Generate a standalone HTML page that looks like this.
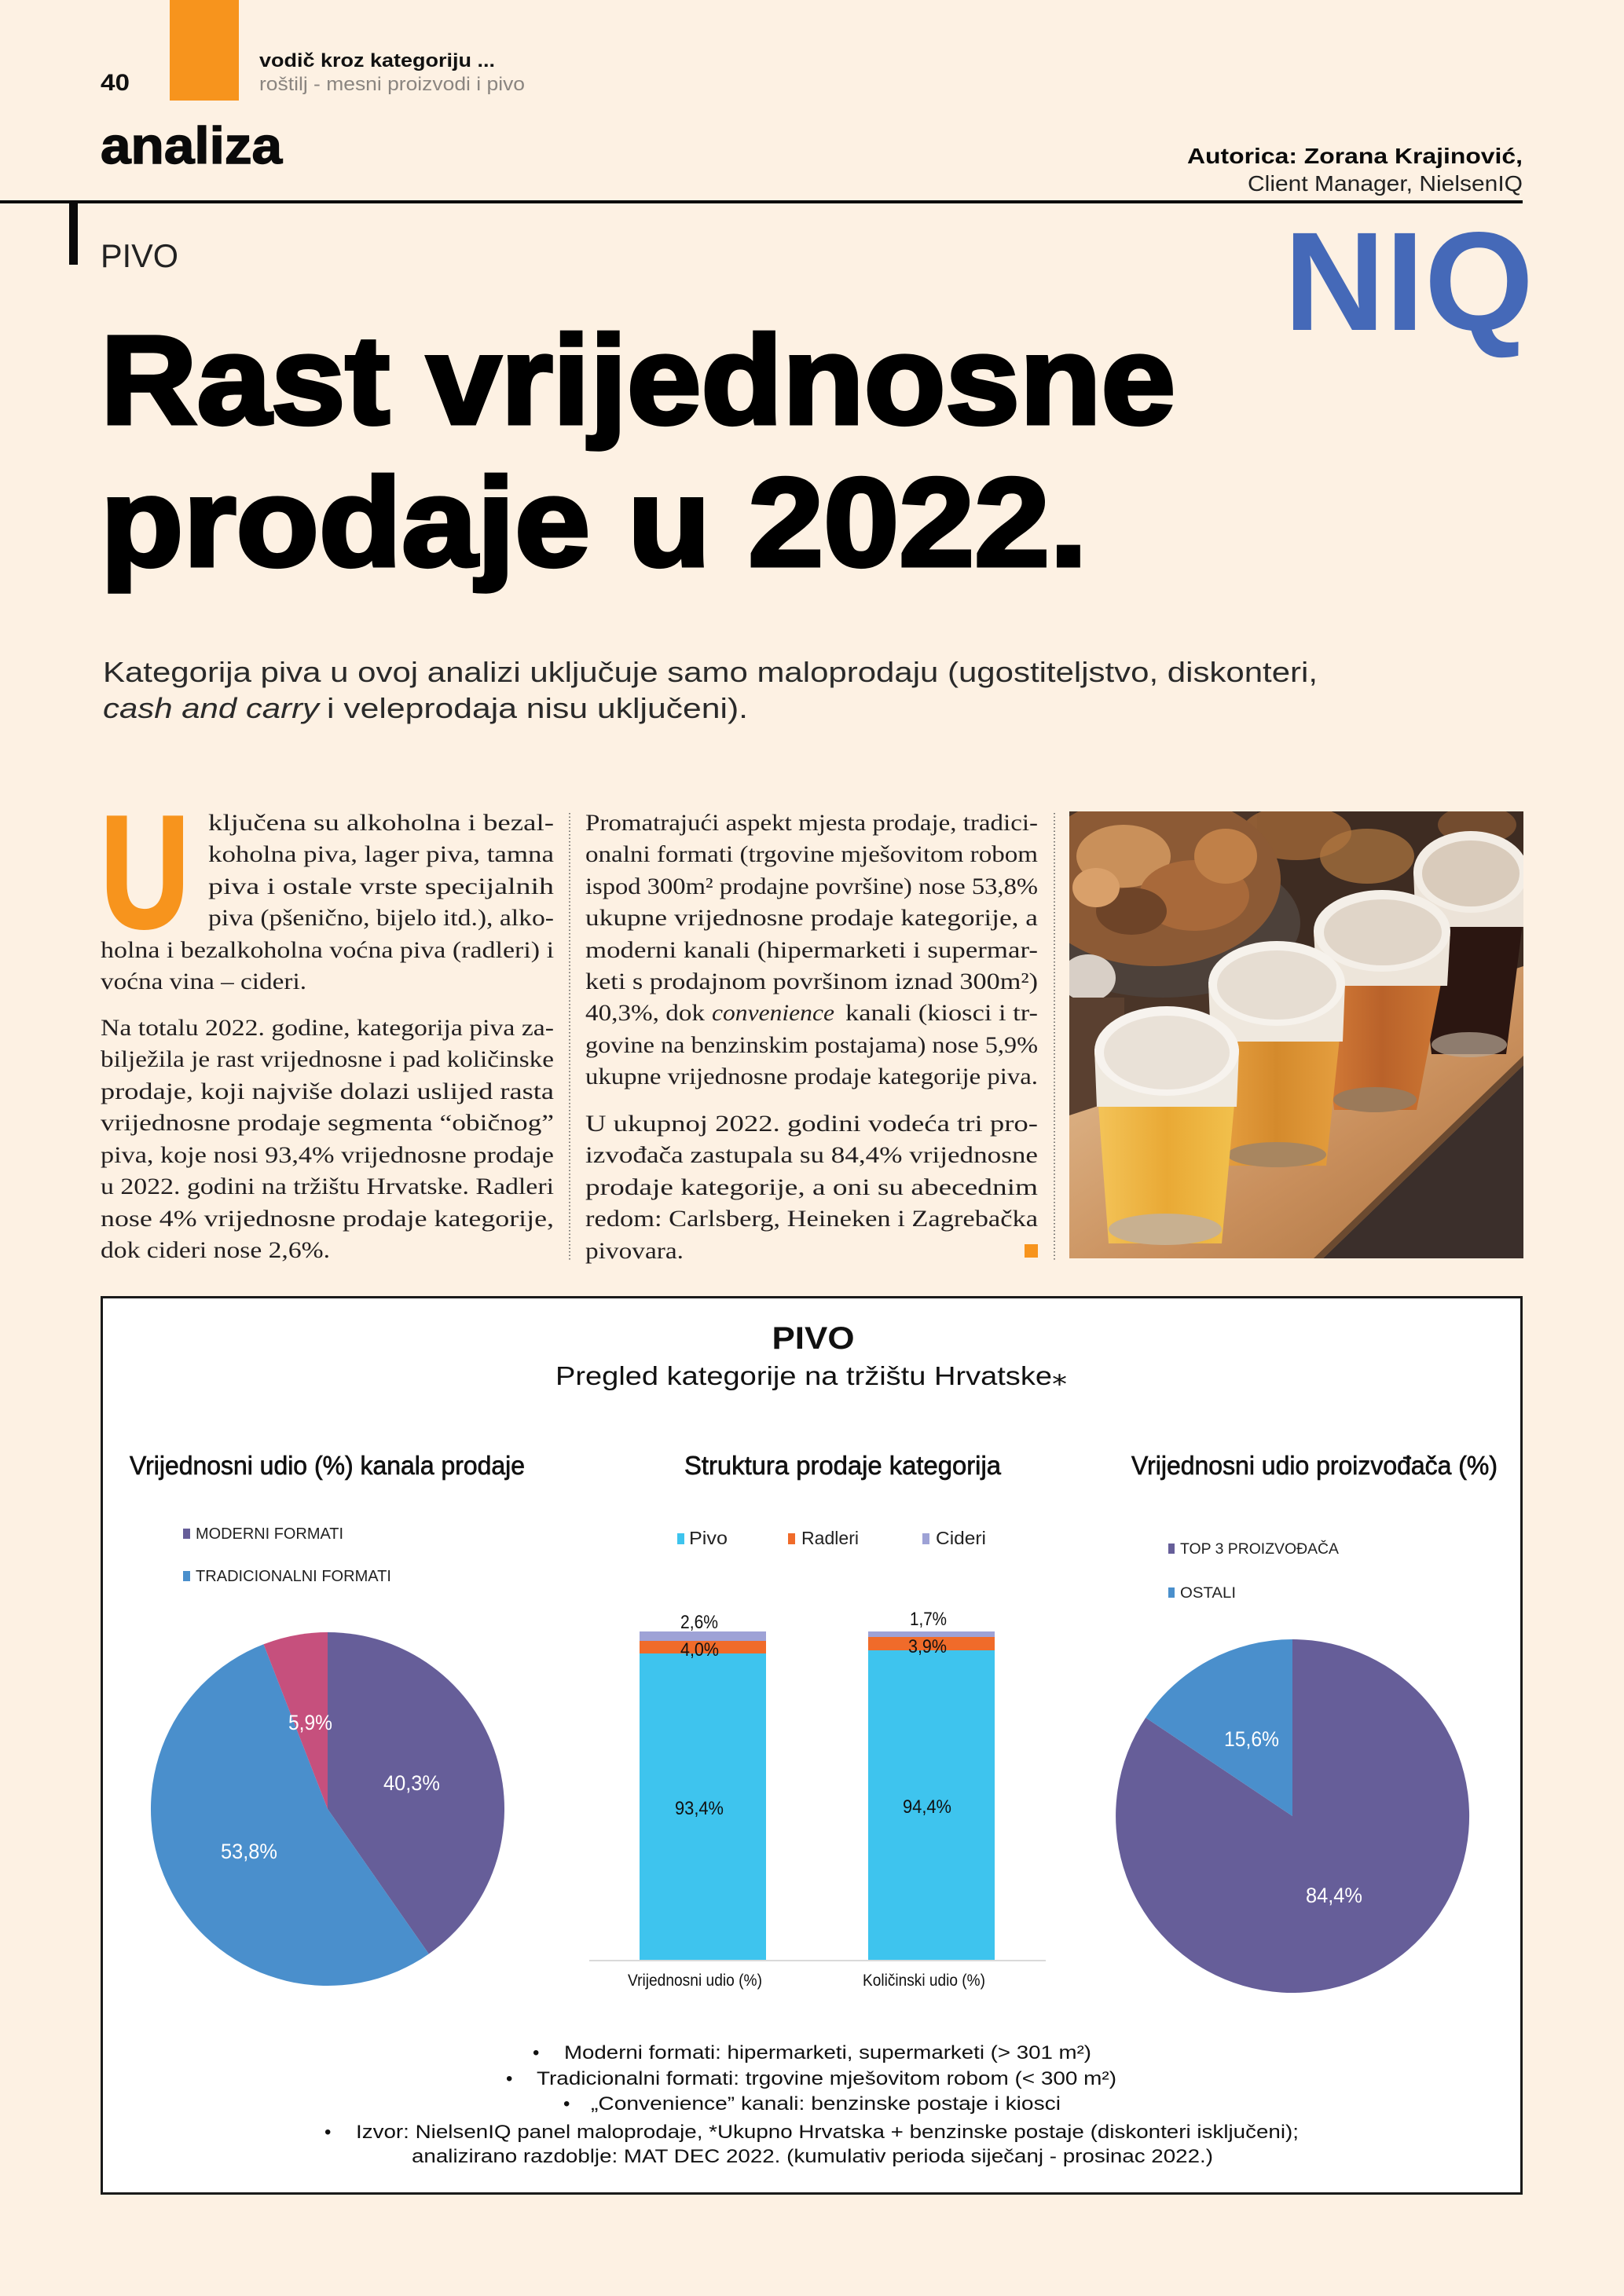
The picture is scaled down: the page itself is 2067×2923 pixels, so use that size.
<!DOCTYPE html>
<html>
<head>
<meta charset="utf-8">
<style>
html,body{margin:0;padding:0;background:#fdf1e3;}
svg{display:block;}
</style>
</head>
<body>
<svg width="2067" height="2923" viewBox="0 0 2067 2923" xmlns="http://www.w3.org/2000/svg">
<defs>
<clipPath id="ph"><rect x="1361" y="1033" width="578" height="569"/></clipPath>
<linearGradient id="wood" x1="0" y1="0" x2="1" y2="1">
<stop offset="0" stop-color="#e6c49a"/><stop offset="0.6" stop-color="#c98f5c"/><stop offset="1" stop-color="#a8703f"/>
</linearGradient>
<linearGradient id="b1" x1="0" y1="0" x2="1" y2="0">
<stop offset="0" stop-color="#f4c55a"/><stop offset="0.5" stop-color="#e9a935"/><stop offset="1" stop-color="#f2c24e"/>
</linearGradient>
<linearGradient id="b2" x1="0" y1="0" x2="1" y2="0">
<stop offset="0" stop-color="#eaa445"/><stop offset="0.5" stop-color="#d48a2c"/><stop offset="1" stop-color="#e6a040"/>
</linearGradient>
<linearGradient id="b3" x1="0" y1="0" x2="1" y2="0">
<stop offset="0" stop-color="#d9803a"/><stop offset="0.5" stop-color="#b9622a"/><stop offset="1" stop-color="#d07a35"/>
</linearGradient>
</defs>
<rect x="0" y="0" width="2067" height="2923" fill="#fdf1e3"/>

<!-- HEADER -->
<rect x="216" y="0" width="88" height="128" fill="#f7941d"/>
<text x="128" y="115" font-family="Liberation Sans, sans-serif" font-weight="bold" font-size="30" fill="#111" textLength="37" lengthAdjust="spacingAndGlyphs">40</text>
<text x="330" y="85" font-family="Liberation Sans, sans-serif" font-weight="bold" font-size="24" fill="#111" textLength="300" lengthAdjust="spacingAndGlyphs">vodič kroz kategoriju ...</text>
<text x="330" y="115" font-family="Liberation Sans, sans-serif" font-size="24" fill="#8a8580" textLength="338" lengthAdjust="spacingAndGlyphs">roštilj - mesni proizvodi i pivo</text>
<text x="128" y="208" font-family="Liberation Sans, sans-serif" font-weight="bold" font-size="66" fill="#0a0a0a" stroke="#0a0a0a" stroke-width="1.5" textLength="231" lengthAdjust="spacingAndGlyphs">analiza</text>
<text x="1511" y="208" font-family="Liberation Sans, sans-serif" font-weight="bold" font-size="28" fill="#0a0a0a" textLength="427" lengthAdjust="spacingAndGlyphs">Autorica: Zorana Krajinović,</text>
<text x="1588" y="243" font-family="Liberation Sans, sans-serif" font-size="28" fill="#222" textLength="350" lengthAdjust="spacingAndGlyphs">Client Manager, NielsenIQ</text>
<rect x="0" y="255" width="1938" height="4" fill="#0a0a0a"/>
<rect x="88" y="257" width="11" height="80" fill="#0a0a0a"/>
<text x="128" y="340" font-family="Liberation Sans, sans-serif" font-size="42" fill="#222" textLength="99" lengthAdjust="spacingAndGlyphs">PIVO</text>
<text x="1634" y="420" font-family="Liberation Sans, sans-serif" font-weight="bold" font-size="179" fill="#4569b8" textLength="318" lengthAdjust="spacingAndGlyphs">NIQ</text>

<!-- TITLE -->
<text x="128" y="539" font-family="Liberation Sans, sans-serif" font-weight="bold" font-size="160" fill="#000" stroke="#000" stroke-width="5" textLength="1368" lengthAdjust="spacingAndGlyphs">Rast vrijednosne</text>
<text x="128" y="720" font-family="Liberation Sans, sans-serif" font-weight="bold" font-size="160" fill="#000" stroke="#000" stroke-width="5" textLength="1256" lengthAdjust="spacingAndGlyphs">prodaje u 2022.</text>

<text x="131" y="868" font-family="Liberation Sans, sans-serif" font-size="36" fill="#2a2a2a" textLength="1546" lengthAdjust="spacingAndGlyphs">Kategorija piva u ovoj analizi uključuje samo maloprodaju (ugostiteljstvo, diskonteri,</text>
<text x="131" y="914" font-family="Liberation Sans, sans-serif" font-style="italic" font-size="36" fill="#2a2a2a" textLength="275" lengthAdjust="spacingAndGlyphs">cash and carry</text>
<text x="416" y="914" font-family="Liberation Sans, sans-serif" font-size="36" fill="#2a2a2a" textLength="536" lengthAdjust="spacingAndGlyphs">i veleprodaja nisu uključeni).</text>

<!-- BODY TEXT -->
<text x="128" y="1180" font-family="Liberation Sans, sans-serif" font-weight="bold" font-size="203" fill="#f7941d" stroke="#f7941d" stroke-width="4" textLength="113" lengthAdjust="spacingAndGlyphs">U</text>
<g font-family="Liberation Serif, serif" font-size="30" fill="#231f20">
<text x="265" y="1057" textLength="440" lengthAdjust="spacingAndGlyphs">ključena su alkoholna i bezal-</text>
<text x="265" y="1097" textLength="440" lengthAdjust="spacingAndGlyphs">koholna piva, lager piva, tamna</text>
<text x="265" y="1138" textLength="440" lengthAdjust="spacingAndGlyphs">piva i ostale vrste specijalnih</text>
<text x="265" y="1178" textLength="440" lengthAdjust="spacingAndGlyphs">piva (pšenično, bijelo itd.), alko-</text>
<text x="128" y="1219" textLength="577" lengthAdjust="spacingAndGlyphs">holna i bezalkoholna voćna piva (radleri) i</text>
<text x="128" y="1259" textLength="262" lengthAdjust="spacingAndGlyphs">voćna vina – cideri.</text>

<text x="128" y="1318" textLength="577" lengthAdjust="spacingAndGlyphs">Na totalu 2022. godine, kategorija piva za-</text>
<text x="128" y="1358" textLength="577" lengthAdjust="spacingAndGlyphs">bilježila je rast vrijednosne i pad količinske</text>
<text x="128" y="1399" textLength="577" lengthAdjust="spacingAndGlyphs">prodaje, koji najviše dolazi uslijed rasta</text>
<text x="128" y="1439" textLength="577" lengthAdjust="spacingAndGlyphs">vrijednosne prodaje segmenta “običnog”</text>
<text x="128" y="1480" textLength="577" lengthAdjust="spacingAndGlyphs">piva, koje nosi 93,4% vrijednosne prodaje</text>
<text x="128" y="1520" textLength="577" lengthAdjust="spacingAndGlyphs">u 2022. godini na tržištu Hrvatske. Radleri</text>
<text x="128" y="1561" textLength="577" lengthAdjust="spacingAndGlyphs">nose 4% vrijednosne prodaje kategorije,</text>
<text x="128" y="1601" textLength="292" lengthAdjust="spacingAndGlyphs">dok cideri nose 2,6%.</text>

<text x="745" y="1057" textLength="576" lengthAdjust="spacingAndGlyphs">Promatrajući aspekt mjesta prodaje, tradici-</text>
<text x="745" y="1097" textLength="576" lengthAdjust="spacingAndGlyphs">onalni formati (trgovine mješovitom robom</text>
<text x="745" y="1138" textLength="576" lengthAdjust="spacingAndGlyphs">ispod 300m² prodajne površine) nose 53,8%</text>
<text x="745" y="1178" textLength="576" lengthAdjust="spacingAndGlyphs">ukupne vrijednosne prodaje kategorije, a</text>
<text x="745" y="1219" textLength="576" lengthAdjust="spacingAndGlyphs">moderni kanali (hipermarketi i supermar-</text>
<text x="745" y="1259" textLength="576" lengthAdjust="spacingAndGlyphs">keti s prodajnom površinom iznad 300m²)</text>
<text x="745" y="1299" textLength="152" lengthAdjust="spacingAndGlyphs">40,3%, dok</text>
<text x="906" y="1299" font-style="italic" textLength="156" lengthAdjust="spacingAndGlyphs">convenience</text>
<text x="1076" y="1299" textLength="245" lengthAdjust="spacingAndGlyphs">kanali (kiosci i tr-</text>
<text x="745" y="1340" textLength="576" lengthAdjust="spacingAndGlyphs">govine na benzinskim postajama) nose 5,9%</text>
<text x="745" y="1380" textLength="576" lengthAdjust="spacingAndGlyphs">ukupne vrijednosne prodaje kategorije piva.</text>

<text x="745" y="1440" textLength="576" lengthAdjust="spacingAndGlyphs">U ukupnoj 2022. godini vodeća tri pro-</text>
<text x="745" y="1480" textLength="576" lengthAdjust="spacingAndGlyphs">izvođača zastupala su 84,4% vrijednosne</text>
<text x="745" y="1521" textLength="576" lengthAdjust="spacingAndGlyphs">prodaje kategorije, a oni su abecednim</text>
<text x="745" y="1561" textLength="576" lengthAdjust="spacingAndGlyphs">redom: Carlsberg, Heineken i Zagrebačka</text>
<text x="745" y="1602" textLength="125" lengthAdjust="spacingAndGlyphs">pivovara.</text>
</g>
<rect x="1304" y="1584" width="17" height="17" fill="#f7941d"/>
<line x1="725" y1="1035" x2="725" y2="1605" stroke="#555" stroke-width="1.5" stroke-dasharray="1.5 3"/>
<line x1="1342" y1="1035" x2="1342" y2="1605" stroke="#555" stroke-width="1.5" stroke-dasharray="1.5 3"/>

<!-- PHOTO -->
<g clip-path="url(#ph)">
<rect x="1361" y="1033" width="578" height="569" fill="#4a3528"/>
<rect x="1600" y="1033" width="339" height="200" fill="#3e2c22"/>
<ellipse cx="1650" cy="1060" rx="70" ry="35" fill="#a06838" opacity="0.8"/>
<ellipse cx="1740" cy="1090" rx="60" ry="35" fill="#b07840" opacity="0.7"/>
<ellipse cx="1880" cy="1050" rx="50" ry="25" fill="#8a5a34" opacity="0.7"/>
<ellipse cx="1480" cy="1175" rx="175" ry="95" fill="#4d413a"/>
<ellipse cx="1470" cy="1120" rx="160" ry="110" fill="#8c5a35"/>
<ellipse cx="1430" cy="1090" rx="60" ry="40" fill="#c9905a"/>
<ellipse cx="1520" cy="1140" rx="70" ry="45" fill="#a8693a"/>
<ellipse cx="1440" cy="1160" rx="45" ry="30" fill="#6e4428"/>
<ellipse cx="1560" cy="1090" rx="40" ry="35" fill="#c08048"/>
<ellipse cx="1395" cy="1130" rx="30" ry="25" fill="#d9a06a"/>
<ellipse cx="1385" cy="1245" rx="35" ry="30" fill="#d8cfc6"/>
<rect x="1361" y="1270" width="70" height="200" fill="#5a4030"/>
<polygon points="1600,1602 1939,1300 1939,1602" fill="#3b2f2b"/>
<polygon points="1361,1420 1939,1230 1939,1356 1684,1602 1361,1602" fill="url(#wood)"/>
<polygon points="1939,1356 1684,1602 1672,1602 1939,1344" fill="#6b4a30"/>
<!-- G4 dark -->
<polygon points="1799,1120 1945,1120 1917,1342 1822,1342" fill="#2b1611"/>
<ellipse cx="1870" cy="1330" rx="48" ry="16" fill="#b9a896" opacity="0.7"/>
<polygon points="1799,1110 1945,1110 1942,1180 1802,1180" fill="#ece3d8"/>
<ellipse cx="1872" cy="1110" rx="73" ry="52" fill="#f3ede5"/>
<ellipse cx="1872" cy="1112" rx="62" ry="42" fill="#d9cbbb"/>
<!-- G3 -->
<polygon points="1672,1190 1846,1190 1803,1413 1698,1413" fill="url(#b3)"/>
<ellipse cx="1750" cy="1400" rx="53" ry="16" fill="#9b7a5a"/>
<polygon points="1672,1185 1846,1185 1842,1255 1676,1255" fill="#ede5da"/>
<ellipse cx="1759" cy="1185" rx="87" ry="52" fill="#f4efe8"/>
<ellipse cx="1760" cy="1187" rx="75" ry="42" fill="#e0d5c8"/>
<!-- G2 -->
<polygon points="1538,1255 1712,1255 1688,1484 1561,1484" fill="url(#b2)"/>
<ellipse cx="1625" cy="1470" rx="63" ry="16" fill="#a88660"/>
<polygon points="1538,1250 1712,1250 1709,1326 1541,1326" fill="#efe8de"/>
<ellipse cx="1625" cy="1252" rx="87" ry="54" fill="#f6f2ec"/>
<ellipse cx="1625" cy="1254" rx="76" ry="44" fill="#e6ddd2"/>
<!-- G1 -->
<polygon points="1393,1340 1577,1340 1555,1583 1411,1583" fill="url(#b1)"/>
<ellipse cx="1483" cy="1565" rx="72" ry="20" fill="#c8b090"/>
<polygon points="1393,1335 1577,1335 1574,1409 1396,1409" fill="#efe9df"/>
<ellipse cx="1485" cy="1338" rx="92" ry="57" fill="#f7f3ee"/>
<ellipse cx="1485" cy="1340" rx="80" ry="47" fill="#e9e1d7"/>
</g>

<!-- CHART BOX -->
<rect x="129.5" y="1651.5" width="1807" height="1141" fill="#ffffff" stroke="#1a1a1a" stroke-width="3"/>
<text x="1035" y="1717" text-anchor="middle" font-family="Liberation Sans, sans-serif" font-weight="bold" font-size="40" fill="#111" textLength="105" lengthAdjust="spacingAndGlyphs">PIVO</text>
<text x="707" y="1763" font-family="Liberation Sans, DejaVu Sans, sans-serif" font-size="33" fill="#111" textLength="651" lengthAdjust="spacingAndGlyphs">Pregled kategorije na tržištu Hrvatske⁎</text>

<g font-family="Liberation Sans, sans-serif" font-size="33" fill="#111" stroke="#111" stroke-width="0.7">
<text x="165" y="1877" textLength="503" lengthAdjust="spacingAndGlyphs">Vrijednosni udio (%) kanala prodaje</text>
<text x="871" y="1877" textLength="403" lengthAdjust="spacingAndGlyphs">Struktura prodaje kategorija</text>
<text x="1440" y="1877" textLength="466" lengthAdjust="spacingAndGlyphs">Vrijednosni udio proizvođača (%)</text>
</g>

<!-- Legends -->
<g font-family="Liberation Sans, sans-serif" fill="#222">
<rect x="233" y="1946" width="9" height="13" fill="#665e99"/>
<text x="249" y="1959" font-size="20" textLength="188" lengthAdjust="spacingAndGlyphs">MODERNI FORMATI</text>
<rect x="233" y="2000" width="9" height="13" fill="#4a8fcc"/>
<text x="249" y="2013" font-size="20" textLength="249" lengthAdjust="spacingAndGlyphs">TRADICIONALNI FORMATI</text>

<rect x="862" y="1952" width="9" height="14" fill="#3ec4ee"/>
<text x="877" y="1966" font-size="23" textLength="49" lengthAdjust="spacingAndGlyphs">Pivo</text>
<rect x="1003" y="1952" width="9" height="14" fill="#f06b2a"/>
<text x="1020" y="1966" font-size="23" textLength="73" lengthAdjust="spacingAndGlyphs">Radleri</text>
<rect x="1174" y="1952" width="9" height="14" fill="#9ea2d6"/>
<text x="1191" y="1966" font-size="23" textLength="64" lengthAdjust="spacingAndGlyphs">Cideri</text>

<rect x="1487" y="1965" width="8" height="13" fill="#665e99"/>
<text x="1502" y="1978" font-size="19" textLength="202" lengthAdjust="spacingAndGlyphs">TOP 3 PROIZVOĐAČA</text>
<rect x="1487" y="2021" width="8" height="13" fill="#4a8fcc"/>
<text x="1502" y="2034" font-size="19" textLength="71" lengthAdjust="spacingAndGlyphs">OSTALI</text>
</g>

<!-- Pie 1 -->
<path d="M417,2303 L417,2078 A225,225 0 0 1 545.8,2487.5 Z" fill="#665e99"/>
<path d="M417,2303 L545.8,2487.5 A225,225 0 1 1 335.5,2093.3 Z" fill="#4a8fcc"/>
<path d="M417,2303 L335.5,2093.3 A225,225 0 0 1 417,2078 Z" fill="#c6507d"/>
<g font-family="Liberation Sans, sans-serif" font-size="27" fill="#fff">
<text x="488" y="2279" textLength="72" lengthAdjust="spacingAndGlyphs">40,3%</text>
<text x="281" y="2366" textLength="72" lengthAdjust="spacingAndGlyphs">53,8%</text>
<text x="367" y="2202" textLength="56" lengthAdjust="spacingAndGlyphs">5,9%</text>
</g>

<!-- Bars -->
<rect x="814" y="2077" width="161" height="12" fill="#9ea2d6"/>
<rect x="814" y="2089" width="161" height="16" fill="#f06b2a"/>
<rect x="814" y="2105" width="161" height="390" fill="#3ec4ee"/>
<rect x="1105" y="2077" width="161" height="7" fill="#9ea2d6"/>
<rect x="1105" y="2084" width="161" height="17" fill="#f06b2a"/>
<rect x="1105" y="2101" width="161" height="394" fill="#3ec4ee"/>
<line x1="750" y1="2496" x2="1331" y2="2496" stroke="#d9d9d9" stroke-width="2"/>
<g font-family="Liberation Sans, sans-serif" font-size="24" fill="#111">
<text x="866" y="2073" textLength="48" lengthAdjust="spacingAndGlyphs">2,6%</text>
<text x="866" y="2108" textLength="49" lengthAdjust="spacingAndGlyphs">4,0%</text>
<text x="859" y="2310" textLength="62" lengthAdjust="spacingAndGlyphs">93,4%</text>
<text x="1158" y="2069" textLength="47" lengthAdjust="spacingAndGlyphs">1,7%</text>
<text x="1156" y="2104" textLength="49" lengthAdjust="spacingAndGlyphs">3,9%</text>
<text x="1149" y="2308" textLength="62" lengthAdjust="spacingAndGlyphs">94,4%</text>
</g>
<g font-family="Liberation Sans, sans-serif" font-size="21" fill="#111">
<text x="799" y="2528" textLength="171" lengthAdjust="spacingAndGlyphs">Vrijednosni udio (%)</text>
<text x="1098" y="2528" textLength="156" lengthAdjust="spacingAndGlyphs">Količinski udio (%)</text>
</g>

<!-- Pie 3 -->
<path d="M1645,2312 L1645,2087 A225,225 0 1 1 1458.2,2186.7 Z" fill="#665e99"/>
<path d="M1645,2312 L1458.2,2186.7 A225,225 0 0 1 1645,2087 Z" fill="#4a8fcc"/>
<g font-family="Liberation Sans, sans-serif" font-size="27" fill="#fff">
<text x="1558" y="2223" textLength="70" lengthAdjust="spacingAndGlyphs">15,6%</text>
<text x="1662" y="2422" textLength="72" lengthAdjust="spacingAndGlyphs">84,4%</text>
</g>

<!-- Footnotes -->
<g font-family="Liberation Sans, sans-serif" font-size="24" fill="#111">
<text x="678" y="2621">•</text>
<text x="718" y="2621" textLength="671" lengthAdjust="spacingAndGlyphs">Moderni formati: hipermarketi, supermarketi (&gt; 301 m²)</text>
<text x="644" y="2654">•</text>
<text x="683" y="2654" textLength="738" lengthAdjust="spacingAndGlyphs">Tradicionalni formati: trgovine mješovitom robom (&lt; 300 m²)</text>
<text x="717" y="2686">•</text>
<text x="752" y="2686" textLength="598" lengthAdjust="spacingAndGlyphs">„Convenience” kanali: benzinske postaje i kiosci</text>
<text x="413" y="2722">•</text>
<text x="453" y="2722" textLength="1200" lengthAdjust="spacingAndGlyphs">Izvor: NielsenIQ panel maloprodaje, *Ukupno Hrvatska + benzinske postaje (diskonteri isključeni);</text>
<text x="524" y="2753" textLength="1020" lengthAdjust="spacingAndGlyphs">analizirano razdoblje: MAT DEC 2022. (kumulativ perioda siječanj - prosinac 2022.)</text>
</g>
</svg>
</body>
</html>
